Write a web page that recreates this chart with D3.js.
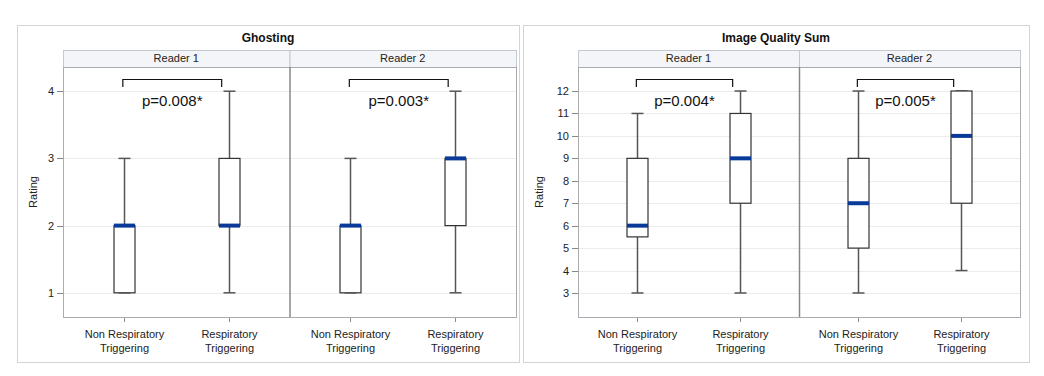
<!DOCTYPE html>
<html>
<head>
<meta charset="utf-8">
<script src="https://cdn.jsdelivr.net/npm/d3@7"></script>
<style>
  body { margin: 0; background: #fff; }
  text { font-family: "Liberation Sans", Arial, sans-serif; }
</style>
</head>
<body>
<div id="canvas"></div>
<script>
"use strict";

/* ---------- data ---------- */
let readers = ["Reader 1", "Reader 2"];
let groups = ["Non Respiratory Triggering", "Respiratory Triggering"];
let groupLines = [["Non Respiratory", "Triggering"], ["Respiratory", "Triggering"]];

// [min, q1, median, q3, max] per group, per reader
let ghostingR1 = [[1, 1, 2, 2, 3], [1, 2, 2, 3, 4]];
let ghostingR2 = [[1, 1, 2, 2, 3], [1, 2, 3, 3, 4]];
let qualityR1 = [[3, 5.5, 6, 9, 11], [3, 7, 9, 11, 12]];
let qualityR2 = [[3, 5, 7, 9, 12], [4, 7, 10, 12, 12]];

let ghostingP = ["p=0.008*", "p=0.003*"];
let qualityP = ["p=0.004*", "p=0.005*"];

let ghostingTicks = [1, 2, 3, 4];
let qualityTicks = [3, 4, 5, 6, 7, 8, 9, 10, 11, 12];

/* ---------- canvas ---------- */
let svgWidth = 1044;
let svgHeight = 376;

let svg = d3.select("#canvas")
    .append("svg")
    .attr("width", svgWidth)
    .attr("height", svgHeight);

function drawChart(opt) {
    let g = svg.append("g");

    // outer frame
    g.append("rect")
        .attr("x", opt.outerLeft + 0.5)
        .attr("y", 25.5)
        .attr("width", opt.outerRight - opt.outerLeft)
        .attr("height", 337)
        .attr("fill", "none")
        .attr("stroke", "#d4d4d4");

    g.append("text")
        .attr("x", (opt.outerLeft + opt.outerRight) / 2)
        .attr("y", 42)
        .attr("text-anchor", "middle")
        .attr("font-size", 12)
        .attr("font-weight", "bold")
        .attr("fill", "#111")
        .text(opt.title);

    let plotTop = 67, plotBottom = 317, headTop = 50;
    let y = d3.scaleLinear().domain(opt.yDomain).range([plotBottom, plotTop]);

    let panelW = (opt.plotRight - opt.plotLeft) / 2;

    // y ticks + labels
    opt.ticks.forEach(function(t) {
        g.append("line")
            .attr("x1", opt.plotLeft - 6).attr("x2", opt.plotLeft)
            .attr("y1", Math.round(y(t)) + 0.5).attr("y2", Math.round(y(t)) + 0.5)
            .attr("stroke", "#888");
        g.append("text")
            .attr("x", opt.plotLeft - 9)
            .attr("y", y(t) + 4)
            .attr("text-anchor", "end")
            .attr("font-size", 11)
            .attr("fill", "#222")
            .text(t);
    });

    g.append("text")
        .attr("transform", "translate(" + opt.ratingX + "," + ((plotTop + plotBottom) / 2) + ") rotate(-90)")
        .attr("text-anchor", "middle")
        .attr("font-size", 11)
        .attr("fill", "#222")
        .text("Rating");

    readers.forEach(function(reader, r) {
        let left = opt.plotLeft + r * panelW;
        let x = d3.scalePoint().domain(groups).range([left, left + panelW]).padding(0.58);
        let stats = opt.data[r];

        // header strip
        g.append("rect")
            .attr("x", left + 0.5).attr("y", headTop + 0.5)
            .attr("width", panelW).attr("height", plotTop - headTop)
            .attr("fill", "#f3f5f9")
            .attr("stroke", "#c4c8cf");
        g.append("text")
            .attr("x", left + panelW / 2)
            .attr("y", headTop + 12)
            .attr("text-anchor", "middle")
            .attr("font-size", 11)
            .attr("fill", "#222")
            .text(reader);

        // gridlines
        opt.ticks.forEach(function(t) {
            g.append("line")
                .attr("x1", left).attr("x2", left + panelW)
                .attr("y1", Math.round(y(t)) + 0.5).attr("y2", Math.round(y(t)) + 0.5)
                .attr("stroke", "#ececec");
        });

        // category ticks and labels
        groups.forEach(function(grp, i) {
            let cx = Math.round(x(grp)) + 0.5;
            g.append("line")
                .attr("x1", cx).attr("x2", cx)
                .attr("y1", plotBottom).attr("y2", plotBottom + 5)
                .attr("stroke", "#888");
            let lab = g.append("text")
                .attr("x", cx)
                .attr("y", plotBottom + 21)
                .attr("text-anchor", "middle")
                .attr("font-size", 11)
                .attr("fill", "#222");
            groupLines[i].forEach(function(line, k) {
                lab.append("tspan")
                    .attr("x", cx)
                    .attr("dy", k === 0 ? 0 : 14)
                    .text(line);
            });
        });

        // boxes
        let boxW = 21, capW = 12;
        stats.forEach(function(s, i) {
            let cx = Math.round(x(groups[i])) + 0.5;
            // whiskers
            g.append("line")
                .attr("x1", cx).attr("x2", cx)
                .attr("y1", y(s[4])).attr("y2", y(s[3]))
                .attr("stroke", "#555").attr("stroke-width", 1.5);
            g.append("line")
                .attr("x1", cx).attr("x2", cx)
                .attr("y1", y(s[1])).attr("y2", y(s[0]))
                .attr("stroke", "#555").attr("stroke-width", 1.5);
            [s[0], s[4]].forEach(function(v) {
                g.append("line")
                    .attr("x1", cx - capW / 2).attr("x2", cx + capW / 2)
                    .attr("y1", y(v)).attr("y2", y(v))
                    .attr("stroke", "#555").attr("stroke-width", 1.5);
            });
            g.append("rect")
                .attr("x", cx - boxW / 2)
                .attr("y", y(s[3]))
                .attr("width", boxW)
                .attr("height", Math.max(0, y(s[1]) - y(s[3])))
                .attr("fill", "#fff")
                .attr("stroke", "#333")
                .attr("stroke-width", 1.2);
            g.append("line")
                .attr("x1", cx - boxW / 2).attr("x2", cx + boxW / 2)
                .attr("y1", y(s[2])).attr("y2", y(s[2]))
                .attr("stroke", "#0a3a99").attr("stroke-width", 4);
        });

        // significance bracket
        let bx1 = x(groups[0]) - 1, bx2 = x(groups[1]) - 7;
        g.append("path")
            .attr("d", "M" + bx1 + "," + (plotTop + 20) + "V" + (plotTop + 12.5) + "H" + bx2 + "V" + (plotTop + 20))
            .attr("fill", "none")
            .attr("stroke", "#111")
            .attr("stroke-width", 1.2);
        g.append("text")
            .attr("x", (bx1 + bx2) / 2)
            .attr("y", plotTop + 39)
            .attr("text-anchor", "middle")
            .attr("font-family", "Lato, 'Open Sans', sans-serif")
            .attr("font-size", 15)
            .attr("fill", "#111")
            .text(opt.pvals[r]);
    });

    // plot frame + divider
    g.append("rect")
        .attr("x", opt.plotLeft + 0.5).attr("y", plotTop + 0.5)
        .attr("width", opt.plotRight - opt.plotLeft).attr("height", plotBottom - plotTop)
        .attr("fill", "none")
        .attr("stroke", "#a8abb0");
    g.append("line")
        .attr("x1", opt.plotLeft + panelW + 0.5).attr("x2", opt.plotLeft + panelW + 0.5)
        .attr("y1", plotTop).attr("y2", plotBottom)
        .attr("stroke", "#888").attr("stroke-width", 1.5);
}

drawChart({
    title: "Ghosting",
    outerLeft: 17, outerRight: 519,
    plotLeft: 63, plotRight: 516,
    ratingX: 37,
    yDomain: [0.64, 4.36],
    ticks: ghostingTicks,
    data: [ghostingR1, ghostingR2],
    pvals: ghostingP
});

drawChart({
    title: "Image Quality Sum",
    outerLeft: 523, outerRight: 1029,
    plotLeft: 578, plotRight: 1020,
    ratingX: 543,
    yDomain: [1.93, 13.07],
    ticks: qualityTicks,
    data: [qualityR1, qualityR2],
    pvals: qualityP
});
</script>
</body>
</html>
